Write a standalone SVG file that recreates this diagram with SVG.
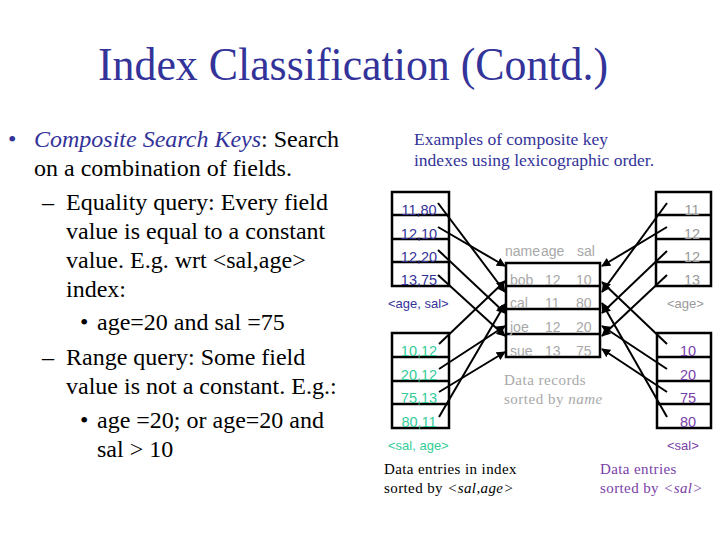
<svg xmlns="http://www.w3.org/2000/svg" width="720" height="540" viewBox="0 0 720 540">
<style>
.serif{font-family:"Liberation Serif","Times New Roman",serif}
.sans{font-family:"Liberation Sans",Arial,sans-serif}
.box{fill:none;stroke:#000;stroke-width:2.5}
.cell{font-size:14.5px;text-anchor:middle}
.blue{fill:#333399}
.teal{fill:#33cc99}
.gray{fill:#999999}
.lgray{fill:#a8a8a8}
.purple{fill:#7a3fa8}
.conn line{stroke:#000;stroke-width:2;marker-end:url(#ah)}
</style>
<defs>
<marker id="ah" viewBox="0 0 10 10" refX="9" refY="5" markerWidth="4.5" markerHeight="4.5" orient="auto" markerUnits="strokeWidth">
<path d="M0,0 L10,5 L0,10 z" fill="#000"/>
</marker>
</defs>
<rect width="720" height="540" fill="#fff"/>

<g id="title">
<text x="98" y="80" font-family="'Liberation Serif','Times New Roman',serif" font-size="46" fill="#333399" textLength="510" lengthAdjust="spacingAndGlyphs">Index Classification (Contd.)</text>
</g>

<g id="bullets" font-family="'Liberation Serif','Times New Roman',serif" font-size="24" fill="#000">
<text x="8" y="147" fill="#333399">•</text>
<text x="34" y="147"><tspan fill="#333399" font-style="italic">Composite Search Keys</tspan>: Search</text>
<text x="34" y="176">on a combination of fields.</text>
<text x="42" y="210">–</text>
<text x="66" y="210">Equality query: Every field</text>
<text x="66" y="239">value is equal to a constant</text>
<text x="66" y="268">value. E.g. wrt &lt;sal,age&gt;</text>
<text x="66" y="297">index:</text>
<text x="80" y="330">•</text>
<text x="97" y="330">age=20 and sal =75</text>
<text x="42" y="365">–</text>
<text x="66" y="365">Range query: Some field</text>
<text x="66" y="394">value is not a constant. E.g.:</text>
<text x="80" y="428">•</text>
<text x="97" y="428">age =20; or age=20 and</text>
<text x="97" y="457">sal &gt; 10</text>
</g>

<g id="caption" font-family="'Liberation Serif','Times New Roman',serif" font-size="17.5" fill="#333399">
<text x="414" y="145">Examples of composite key</text>
<text x="414" y="166">indexes using lexicographic order.</text>
</g>

<g id="idx-age-sal">
<rect class="box" x="392" y="192" width="57" height="94"/>
<line class="box" x1="392" y1="215" x2="449" y2="215"/>
<line class="box" x1="392" y1="239" x2="449" y2="239"/>
<line class="box" x1="392" y1="262" x2="449" y2="262"/>
<g class="sans cell blue">
<text x="419" y="215">11,80</text>
<text x="419" y="239">12,10</text>
<text x="419" y="262">12,20</text>
<text x="419" y="285">13,75</text>
</g>
<text class="sans blue" x="388" y="308" font-size="13">&lt;age, sal&gt;</text>
</g>

<g id="idx-sal-age">
<rect class="box" x="392" y="333" width="57" height="95"/>
<line class="box" x1="392" y1="357" x2="449" y2="357"/>
<line class="box" x1="392" y1="381" x2="449" y2="381"/>
<line class="box" x1="392" y1="404" x2="449" y2="404"/>
<g class="sans cell teal">
<text x="419" y="356">10,12</text>
<text x="419" y="380">20,12</text>
<text x="419" y="403">75,13</text>
<text x="419" y="427">80,11</text>
</g>
<text class="sans teal" x="388" y="450" font-size="13">&lt;sal, age&gt;</text>
</g>

<g id="records">
<g class="sans lgray" font-size="14">
<text x="505" y="256">name</text>
<text x="541" y="256">age</text>
<text x="577" y="256">sal</text>
</g>
<rect class="box" x="506" y="263" width="94" height="94"/>
<line class="box" x1="506" y1="286" x2="600" y2="286"/>
<line class="box" x1="506" y1="309" x2="600" y2="309"/>
<line class="box" x1="506" y1="334" x2="600" y2="334"/>
<g class="sans lgray" font-size="14">
<text x="510" y="285">bob</text><text x="545" y="285">12</text><text x="576" y="285">10</text>
<text x="510" y="308">cal</text><text x="545" y="308">11</text><text x="576" y="308">80</text>
<text x="510" y="332">joe</text><text x="545" y="332">12</text><text x="576" y="332">20</text>
<text x="510" y="356">sue</text><text x="545" y="356">13</text><text x="576" y="356">75</text>
</g>
<g font-family="'Liberation Serif','Times New Roman',serif" class="lgray" font-size="15" letter-spacing="0.5">
<text x="504" y="385">Data records</text>
<text x="504" y="404">sorted by <tspan font-style="italic">name</tspan></text>
</g>
</g>

<g id="idx-age">
<rect class="box" x="656" y="192" width="55" height="94"/>
<line class="box" x1="656" y1="215" x2="711" y2="215"/>
<line class="box" x1="656" y1="239" x2="711" y2="239"/>
<line class="box" x1="656" y1="262" x2="711" y2="262"/>
<g class="sans cell gray">
<text x="692" y="215">11</text>
<text x="692" y="239">12</text>
<text x="692" y="262">12</text>
<text x="692" y="285">13</text>
</g>
<text class="sans gray" x="667" y="308" font-size="13">&lt;age&gt;</text>
</g>

<g id="idx-sal">
<rect class="box" x="657" y="333" width="54" height="95"/>
<line class="box" x1="657" y1="357" x2="711" y2="357"/>
<line class="box" x1="657" y1="381" x2="711" y2="381"/>
<line class="box" x1="657" y1="404" x2="711" y2="404"/>
<g class="sans cell purple">
<text x="688" y="356">10</text>
<text x="688" y="380">20</text>
<text x="688" y="403">75</text>
<text x="688" y="427">80</text>
</g>
<text class="sans purple" x="667" y="450" font-size="13">&lt;sal&gt;</text>
</g>

<g id="caption-left" font-family="'Liberation Serif','Times New Roman',serif" font-size="15" letter-spacing="0.4" fill="#000">
<text x="384" y="474">Data entries in index</text>
<text x="384" y="493">sorted by <tspan font-style="italic">&lt;sal,age&gt;</tspan></text>
</g>
<g id="caption-right" font-family="'Liberation Serif','Times New Roman',serif" class="purple" font-size="15" letter-spacing="0.4">
<text x="600" y="474">Data entries</text>
<text x="600" y="493">sorted by <tspan font-style="italic">&lt;sal&gt;</tspan></text>
</g>

<g id="connectors" class="conn">
<line x1="438" y1="203" x2="505" y2="292"/>
<line x1="438" y1="227" x2="505" y2="266"/>
<line x1="438" y1="250" x2="505" y2="313"/>
<line x1="438" y1="275" x2="505" y2="336"/>
<line x1="439" y1="344" x2="505" y2="281"/>
<line x1="439" y1="369" x2="505" y2="326"/>
<line x1="439" y1="392" x2="505" y2="352"/>
<line x1="439" y1="417" x2="505" y2="304"/>
<line x1="667" y1="203" x2="602" y2="292"/>
<line x1="667" y1="227" x2="602" y2="266"/>
<line x1="667" y1="251" x2="602" y2="313"/>
<line x1="667" y1="275" x2="602" y2="336"/>
<line x1="667" y1="344" x2="602" y2="282"/>
<line x1="667" y1="369" x2="602" y2="326"/>
<line x1="667" y1="392" x2="602" y2="349"/>
<line x1="667" y1="417" x2="602" y2="303"/>
</g>
</svg>
